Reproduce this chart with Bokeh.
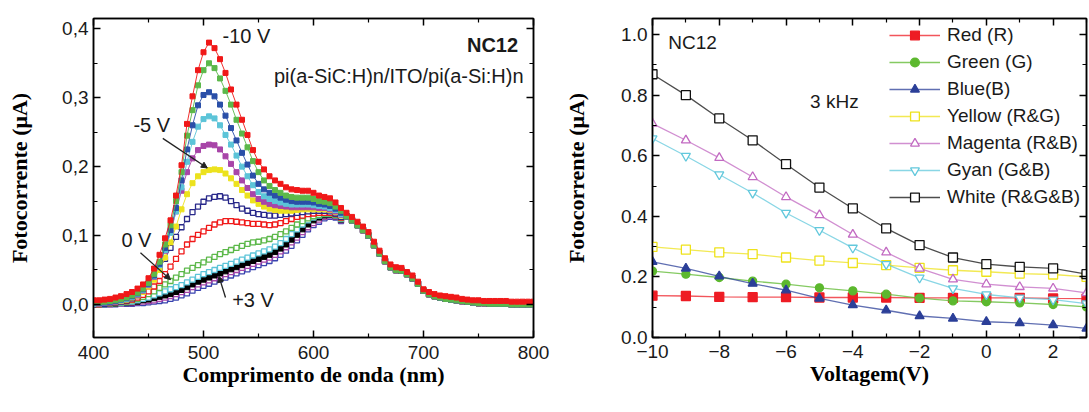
from bokeh.plotting import figure
from bokeh.layouts import row
from bokeh.models import (FixedTicker, LinearAxis, Label, Arrow, NormalHead,
                          Legend, LegendItem, Range1d, NumeralTickFormatter)
from bokeh.embed import file_html
from bokeh.resources import INLINE

# ---------------- LEFT PANEL DATA ----------------
wavelength_nm = list(range(400, 805, 5))          # 400 ... 800 nm
# values 400..625 nm (46 points) per curve
pc_m10 = [.006,.006,.007,.008,.010,.012,.015,.018,.023,.029,
          .038,.052,.072,.096,.122,.158,.202,.262,.302,.340,
          .366,.380,.372,.356,.336,.312,.290,.268,.246,.224,
          .207,.196,.186,.180,.175,.170,.167,.166,.165,.165,
          .162,.158,.156,.154,.148,.140]
pc_m9 = [.003,.003,.004,.005,.006,.008,.010,.013,.017,.023,
         .031,.044,.062,.087,.115,.150,.192,.245,.282,.318,
         .340,.350,.343,.328,.310,.290,.268,.248,.228,.208,
         .192,.180,.172,.166,.162,.158,.156,.155,.155,.155,
         .153,.150,.149,.147,.142,.136]
pc_m8 = [.002,.002,.003,.004,.005,.007,.009,.012,.016,.022,
         .030,.042,.059,.082,.108,.140,.180,.225,.260,.289,
         .304,.308,.302,.290,.274,.256,.238,.220,.203,.187,
         .175,.167,.162,.158,.155,.152,.150,.149,.149,.149,
         .148,.146,.145,.143,.139,.133]
pc_m7 = [.001,.002,.003,.004,.005,.006,.008,.011,.015,.021,
         .029,.041,.057,.079,.104,.135,.170,.207,.236,.258,
         .269,.273,.270,.260,.246,.232,.216,.200,.186,.173,
         .163,.157,.153,.150,.148,.146,.145,.145,.145,.145,
         .144,.143,.142,.140,.137,.131]
pc_m6 = [.001,.001,.002,.003,.004,.006,.008,.011,.014,.020,
         .028,.040,.058,.078,.105,.135,.165,.192,.212,.224,
         .230,.232,.231,.225,.215,.204,.192,.180,.169,.160,
         .153,.149,.146,.144,.143,.142,.141,.141,.141,.141,
         .141,.140,.140,.138,.135,.130]
pc_m5 = [.001,.001,.002,.003,.004,.005,.007,.010,.013,.018,
         .026,.036,.050,.068,.090,.113,.138,.160,.176,.186,
         .192,.195,.196,.195,.190,.183,.175,.166,.158,.151,
         .146,.142,.139,.137,.136,.136,.136,.137,.138,.138,
         .138,.138,.138,.137,.134,.129]
pc_m4 = [.000,.001,.001,.002,.003,.004,.006,.009,.013,.020,
         .030,.040,.052,.066,.082,.098,.112,.124,.134,.142,
         .149,.154,.156,.157,.155,.150,.144,.139,.136,.133,
         .131,.130,.129,.129,.130,.131,.132,.133,.134,.135,
         .136,.136,.136,.135,.132,.127]
pc_m3 = [.000,.000,.001,.002,.003,.004,.005,.007,.010,.014,
         .019,.026,.034,.044,.055,.066,.077,.087,.095,.101,
         .106,.111,.116,.119,.121,.121,.120,.119,.118,.117,
         .117,.116,.115,.116,.118,.121,.124,.127,.129,.131,
         .132,.133,.133,.133,.131,.126]
pc_m2 = [.000,.000,.001,.001,.002,.003,.004,.006,.008,.011,
         .015,.019,.024,.029,.034,.039,.044,.049,.053,.057,
         .061,.065,.069,.073,.076,.079,.082,.085,.088,.090,
         .091,.093,.095,.098,.102,.106,.111,.116,.121,.125,
         .128,.130,.132,.132,.130,.125]
pc_m1 = [.000,.000,.000,.001,.002,.002,.003,.004,.006,.008,
         .010,.013,.016,.019,.022,.025,.028,.032,.036,.040,
         .044,.047,.050,.053,.056,.059,.062,.065,.068,.071,
         .074,.077,.080,.084,.089,.095,.102,.109,.116,.122,
         .126,.129,.131,.131,.129,.124]
pc_0 = [.000,.000,.000,.001,.001,.002,.002,.003,.004,.006,
        .007,.009,.011,.013,.015,.018,.021,.025,.029,.033,
        .036,.039,.042,.045,.048,.051,.054,.057,.060,.063,
        .066,.069,.072,.076,.081,.087,.094,.101,.109,.116,
        .122,.126,.129,.130,.128,.123]
pc_p1 = [.000,.000,.000,.000,.001,.001,.002,.002,.003,.004,
         .005,.006,.008,.010,.012,.015,.018,.021,.025,.029,
         .032,.035,.038,.041,.044,.047,.050,.053,.056,.059,
         .062,.065,.068,.072,.077,.083,.090,.097,.105,.112,
         .118,.123,.127,.129,.127,.122]
pc_p3 = [.000,.000,.000,.000,.000,.001,.001,.001,.002,.002,
         .003,.004,.005,.006,.008,.010,.013,.016,.020,.024,
         .027,.030,.033,.036,.039,.042,.045,.048,.051,.054,
         .057,.060,.063,.067,.072,.078,.085,.093,.101,.109,
         .115,.120,.125,.127,.126,.121]
# values 630..800 nm (35 points): -10 V curve and the (overlapping) others
tail_m10 = [.133,.127,.120,.113,.105,.091,.078,.067,.058,.054,
            .053,.047,.042,.033,.022,.018,.015,.013,.012,.011,
            .010,.008,.007,.006,.006,.005,.005,.005,.005,.005,
            .004,.004,.004,.004,.004]
tail_others = [.128,.122,.115,.108,.100,.086,.074,.063,.054,.050,
               .049,.044,.038,.030,.020,.015,.012,.010,.008,.007,
               .006,.005,.004,.003,.002,.002,.001,.001,.001,.001,
               .000,.000,.000,.000,.000]

left_series = [pc_m10 + tail_m10, pc_m9 + tail_others, pc_m8 + tail_others,
               pc_m7 + tail_others, pc_m6 + tail_others, pc_m5 + tail_others,
               pc_m4 + tail_others, pc_m3 + tail_others, pc_m2 + tail_others,
               pc_m1 + tail_others, pc_0 + tail_others, pc_p1 + tail_others,
               pc_p3 + tail_others]
left_colors = ["#f01818", "#5cb84a", "#2a4fa8", "#5cc4d8", "#a845a8", "#ece21e",
               "#28288a", "#f01818", "#5cb84a", "#5cc4d8", "#000000", "#a845a8",
               "#3a44b0"]
left_filled = [True, True, True, True, True, True,
               False, False, False, False, True, False, False]

x_ticks_left = [400, 500, 600, 700, 800]
x_minor_left = [450, 550, 650, 750]
y_ticks_left = [0.0, 0.1, 0.2, 0.3, 0.4]
y_labels_left = ["0,0", "0,1", "0,2", "0,3", "0,4"]
y_minor_left = [0.05, 0.15, 0.25, 0.35]

# ---------------- RIGHT PANEL DATA ----------------
voltage = [-10, -9, -8, -7, -6, -5, -4, -3, -2, -1, 0, 1, 2, 3]
red_R = [0.138, 0.137, 0.134, 0.133, 0.133, 0.132, 0.132, 0.132, 0.131, 0.131, 0.131, 0.131, 0.129, 0.128]
green_G = [0.219, 0.209, 0.198, 0.186, 0.176, 0.164, 0.154, 0.143, 0.130, 0.121, 0.118, 0.114, 0.109, 0.101]
blue_B = [0.250, 0.228, 0.202, 0.178, 0.156, 0.129, 0.107, 0.090, 0.071, 0.063, 0.052, 0.048, 0.041, 0.030]
yellow_RG = [0.299, 0.290, 0.281, 0.275, 0.264, 0.254, 0.246, 0.239, 0.230, 0.222, 0.217, 0.211, 0.208, 0.200]
magenta_RB = [0.706, 0.651, 0.593, 0.530, 0.464, 0.404, 0.340, 0.281, 0.228, 0.192, 0.176, 0.167, 0.162, 0.147]
cyan_GB = [0.657, 0.599, 0.538, 0.477, 0.411, 0.354, 0.296, 0.242, 0.197, 0.162, 0.142, 0.131, 0.125, 0.112]
white_RGB = [0.869, 0.800, 0.723, 0.651, 0.572, 0.495, 0.426, 0.360, 0.305, 0.264, 0.242, 0.233, 0.228, 0.209]
right_labels = ["Red (R)", "Green (G)", "Blue(B)", "Yellow (R&G)", "Magenta (R&B)",
                "Gyan (G&B)", "White (R&G&B)"]
right_series = [red_R, green_G, blue_B, yellow_RG, magenta_RB, cyan_GB, white_RGB]
right_colors = ["#ee1c24", "#5cb82e", "#2b3f98", "#eee21a", "#c26ac2", "#62c8dc", "#111111"]
right_markers = ["square", "circle", "triangle", "square", "triangle", "inverted_triangle", "square"]
right_filled = [True, True, True, False, False, False, False]

x_ticks_right = [-10, -8, -6, -4, -2, 0, 2]
x_minor_right = [-9, -7, -5, -3, -1, 1, 3]
y_ticks_right = [0.0, 0.2, 0.4, 0.6, 0.8, 1.0]
y_minor_right = [0.1, 0.3, 0.5, 0.7, 0.9]

SANS = "Liberation Sans"
SERIF = "Liberation Serif"


def style_axis(ax, ticker, show_labels=True, standoff=5):
    ax.ticker = ticker
    ax.axis_line_width = 1.5
    ax.axis_line_color = "black"
    ax.major_tick_in = 7
    ax.major_tick_out = 0
    ax.minor_tick_in = 4
    ax.minor_tick_out = 0
    ax.major_tick_line_width = 1.5
    ax.minor_tick_line_width = 1.2
    ax.major_label_text_font = SANS
    if show_labels:
        ax.major_label_text_color = "#1a1a1a"
        ax.major_label_text_font_size = "19px"
        ax.major_label_standoff = standoff
    else:
        ax.major_label_text_color = None
        ax.major_label_text_font_size = "1px"
        ax.major_label_standoff = 0
        ax.major_label_overrides = {t: "" for t in ticker.ticks}
    ax.axis_label_text_font = SERIF
    ax.axis_label_text_font_style = "bold"
    ax.axis_label_text_color = "black"


def make_fig(width, height, xr, yr, borders):
    p = figure(width=width, height=height, x_range=Range1d(*xr), y_range=Range1d(*yr),
               output_backend="svg", toolbar_location=None, title=None,
               min_border_left=borders[0], min_border_right=borders[1],
               min_border_top=borders[2], min_border_bottom=borders[3])
    p.xgrid.visible = False
    p.ygrid.visible = False
    p.outline_line_color = "black"
    p.outline_line_width = 1.5
    p.background_fill_color = "white"
    p.border_fill_color = "white"
    return p


# ---------------- LEFT FIGURE ----------------
pl = make_fig(560, 410, (400, 800), (-0.048, 0.415), (93, 27, 18, 73))
xt_l = FixedTicker(ticks=x_ticks_left, minor_ticks=x_minor_left)
yt_l = FixedTicker(ticks=y_ticks_left, minor_ticks=y_minor_left)
style_axis(pl.xaxis[0], xt_l, standoff=8)
style_axis(pl.yaxis[0], yt_l)
pl.yaxis[0].major_label_overrides = dict(zip(y_ticks_left, y_labels_left))
pl.xaxis[0].axis_label = "Comprimento de onda (nm)"
pl.xaxis[0].axis_label_text_font_size = "22px"
pl.xaxis[0].axis_label_standoff = 0
pl.yaxis[0].axis_label = "Fotocorrente (\u03bcA)"
pl.yaxis[0].axis_label_text_font_size = "22px"
pl.yaxis[0].axis_label_standoff = 27
top_l = LinearAxis()
style_axis(top_l, FixedTicker(ticks=x_ticks_left, minor_ticks=x_minor_left), False)
pl.add_layout(top_l, "above")
right_l = LinearAxis()
style_axis(right_l, FixedTicker(ticks=y_ticks_left, minor_ticks=y_minor_left), False)
pl.add_layout(right_l, "right")

for vals, col, filled in reversed(list(zip(left_series, left_colors, left_filled))):
    pl.line(wavelength_nm, vals, line_color=col, line_width=1, line_alpha=0.9)
    if filled:
        pl.scatter(wavelength_nm, vals, marker="square", size=5, fill_color=col,
                   line_color=col, line_width=1)
    else:
        pl.scatter(wavelength_nm, vals, marker="square", size=5, fill_color="white",
                   line_color=col, line_width=1.3)

for txt, x, y, align, bold in [("-10 V", 539, 0.389, "center", False),
                               ("-5 V", 453, 0.260, "center", False),
                               ("0 V", 439, 0.094, "center", False),
                               ("+3 V", 545, 0.006, "center", False),
                               ("NC12", 786, 0.377, "right", True),
                               ("pi(a-SiC:H)n/ITO/pi(a-Si:H)n", 791, 0.332, "right", False)]:
    pl.add_layout(Label(x=x, y=y, text=txt, text_font=SANS, text_font_size="20px",
                        text_align=align, text_baseline="middle", text_color="#1a1a1a",
                        text_font_style="bold" if bold else "normal"))

for xs, ys, xe, ye in [(463, 0.241, 503.5, 0.198), (442.7, 0.075, 470, 0.036),
                       (520, 0.010, 514, 0.041)]:
    pl.add_layout(Arrow(x_start=xs, y_start=ys, x_end=xe, y_end=ye, line_width=1.3,
                        line_color="#222222",
                        end=NormalHead(size=6, fill_color="#222222", line_color="#222222")))

# ---------------- RIGHT FIGURE ----------------
pr = make_fig(528, 410, (-10, 3), (0, 1.053), (92, 2, 18, 73))
xt_r = FixedTicker(ticks=x_ticks_right, minor_ticks=x_minor_right)
yt_r = FixedTicker(ticks=y_ticks_right, minor_ticks=y_minor_right)
style_axis(pr.xaxis[0], xt_r, standoff=7)
style_axis(pr.yaxis[0], yt_r)
pr.yaxis[0].formatter = NumeralTickFormatter(format="0.0")
pr.xaxis[0].axis_label = "Voltagem(V)"
pr.xaxis[0].axis_label_text_font_size = "22px"
pr.xaxis[0].axis_label_standoff = 0
pr.yaxis[0].axis_label = "Fotocorrente (\u03bcA)"
pr.yaxis[0].axis_label_text_font_size = "22px"
pr.yaxis[0].axis_label_standoff = 29
top_r = LinearAxis()
style_axis(top_r, FixedTicker(ticks=x_ticks_right, minor_ticks=x_minor_right), False)
pr.add_layout(top_r, "above")
right_r = LinearAxis()
style_axis(right_r, FixedTicker(ticks=y_ticks_right, minor_ticks=y_minor_right), False)
pr.add_layout(right_r, "right")

items = []
for lab, vals, col, mk, filled in zip(right_labels, right_series, right_colors,
                                      right_markers, right_filled):
    ln = pr.line(voltage, vals, line_color=col, line_width=1.3, line_alpha=0.75)
    sz = 9 if mk != "circle" else 8
    sc = pr.scatter(voltage, vals, marker=mk, size=sz,
                    fill_color=col if filled else "white",
                    line_color=col, line_width=1.3)
    items.append(LegendItem(label=lab, renderers=[ln, sc]))

leg = Legend(items=items, location="top_right", glyph_width=51, glyph_height=22,
             label_height=22, spacing=5, label_standoff=7, padding=2, margin=4,
             border_line_alpha=0, background_fill_alpha=0,
             label_text_font=SANS, label_text_font_size="19px",
             label_text_color="#1a1a1a")
pr.add_layout(leg)

pr.add_layout(Label(x=-9.53, y=0.973, text="NC12", text_font=SANS, text_font_size="19px",
                    text_align="left", text_baseline="middle", text_color="#1a1a1a"))
pr.add_layout(Label(x=-5.28, y=0.780, text="3 kHz", text_font=SANS, text_font_size="19px",
                    text_align="left", text_baseline="middle", text_color="#1a1a1a"))

layout = row(pl, pr)
open("out.html", "w").write(file_html(layout, INLINE))
